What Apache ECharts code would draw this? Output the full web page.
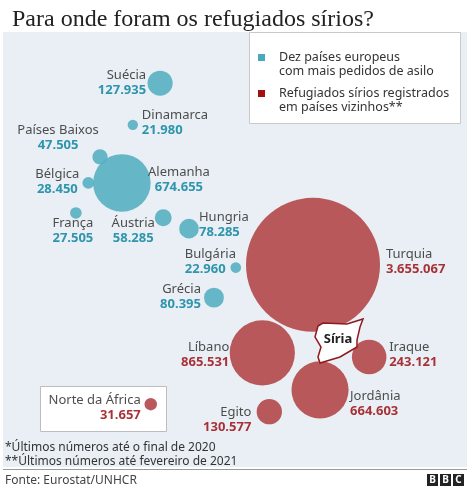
<!DOCTYPE html>
<html>
<head>
<meta charset="utf-8">
<script src="https://cdn.jsdelivr.net/npm/echarts@6/dist/echarts.min.js"></script>
<style>
html, body { margin: 0; padding: 0; background: #fff; }
#chart { width: 472px; height: 490px; }
</style>
</head>
<body>
<div id="chart"></div>
<script>
// dez países europeus com mais pedidos de asilo
var euNames = ['Suécia', 'Dinamarca', 'Países Baixos', 'Bélgica', 'Alemanha', 'França', 'Áustria', 'Hungria', 'Bulgária', 'Grécia'];
var euValues = [127935, 21980, 47505, 28450, 674655, 27505, 58285, 78285, 22960, 80395];
var euLon = [15.4, 11.9, 7.7, 6.2, 10.5, 4.6, 15.8, 19.1, 25.1, 22.3];
var euLat = [65.6, 59.5, 54.8, 51.0, 51.0, 46.6, 45.9, 44.3, 38.6, 34.2];

// refugiados registrados em países vizinhos
var nbNames = ['Turquia', 'Líbano', 'Iraque', 'Jordânia', 'Egito', 'Norte da África'];
var nbValues = [3655067, 865531, 243121, 664603, 130577, 31657];
var nbLon = [35.0, 28.5, 42.2, 35.9, 29.4, 14.2];
var nbLat = [39.0, 26.1, 25.5, 20.7, 17.5, 18.6];

// posição dos rótulos: [alinhamento, dx, dy]
var euPlace = [['right', -14, 0], ['left', 9, -2], ['center', -42, -19], ['center', -31, -1], ['center', 57, -3],
    ['center', -3, 18], ['center', -30, 13], ['left', 10, -4], ['left', -51, -6], ['right', -13, -1]];
var nbPlace = [['left', 73, -3], ['right', -33, 2], ['left', 20, -2], ['left', 30, 14], ['right', -18, 8], ['right', -10, 4]];

var maxValue = Math.max.apply(null, nbValues);
var maxRadius = 67;
var font = '"Noto Sans", sans-serif';

function fmt(v) {
    return String(v).replace(/\B(?=(\d{3})+(?!\d))/g, '.');
}

function buildData(names, values, lon, lat, place) {
    return names.map(function (n, i) {
        return {
            name: n,
            value: [lon[i], lat[i], values[i]],
            label: { align: place[i][0], offset: [place[i][1], place[i][2]] }
        };
    });
}

function bubbleSeries(name, data, color, valueColor) {
    return {
        name: name,
        type: 'scatter',
        data: data,
        symbolSize: function (val) {
            return 2 * maxRadius * Math.sqrt(val[2] / maxValue);
        },
        itemStyle: { color: color, opacity: 0.9 },
        emphasis: { disabled: true },
        label: {
            show: true,
            position: 'inside',
            verticalAlign: 'middle',
            formatter: function (p) {
                return '{n|' + p.name + '}\n{v|' + fmt(p.value[2]) + '}';
            },
            rich: {
                n: { fontFamily: font, fontSize: 13, color: '#3a3a3a', lineHeight: 15 },
                v: { fontFamily: font, fontSize: 13, fontWeight: 'bold', color: valueColor, lineHeight: 15 }
            }
        }
    };
}

var chart = echarts.init(document.getElementById('chart'));

var option = {
    animation: false,
    title: {
        text: 'Para onde foram os refugiados sírios?',
        left: 7,
        top: 3,
        textStyle: { fontFamily: '"Liberation Serif", serif', fontSize: 24, fontWeight: 'normal', color: '#222' }
    },
    grid: {
        left: 3, top: 32, width: 464, height: 435,
        show: true, backgroundColor: '#e9eff4', borderWidth: 0
    },
    xAxis: { type: 'value', min: -4.74, max: 54.74, show: false },
    yAxis: { type: 'value', min: 9.4, max: 73.1, show: false },
    series: [
        bubbleSeries('Dez países europeus', buildData(euNames, euValues, euLon, euLat, euPlace), '#56afc2', '#1a8ba5'),
        bubbleSeries('Refugiados sírios', buildData(nbNames, nbValues, nbLon, nbLat, nbPlace), '#b3474a', '#9e1b1f')
    ],
    graphic: [
        // legenda
        { type: 'rect', z: 10, shape: { x: 249.5, y: 32.5, width: 211, height: 91 },
          style: { fill: '#fff', stroke: '#c9c9c9', lineWidth: 1 } },
        { type: 'rect', z: 11, shape: { x: 258, y: 54, width: 7, height: 7 }, style: { fill: '#4aa8bd' } },
        { type: 'rect', z: 11, shape: { x: 258, y: 90, width: 7, height: 7 }, style: { fill: '#a00f12' } },
        { type: 'text', z: 11, x: 279, y: 64,
          style: { text: 'Dez países europeus\ncom mais pedidos de asilo', fill: '#333', font: '12.5px "Noto Sans"', lineHeight: 14, verticalAlign: 'middle' } },
        { type: 'text', z: 11, x: 279, y: 100,
          style: { text: 'Refugiados sírios registrados\nem países vizinhos**', fill: '#333', font: '12.5px "Noto Sans"', lineHeight: 14, verticalAlign: 'middle' } },
        // caixa Norte da África
        { type: 'rect', z: 1, shape: { x: 40.5, y: 386.5, width: 126, height: 45 },
          style: { fill: '#fff', stroke: '#bdbdbd', lineWidth: 1 } },
        // Síria
        { type: 'polygon', z: 5,
          shape: { points: [[318, 326], [323, 323], [347, 324], [363, 319], [360, 327], [357, 340], [357, 347], [340, 357], [320, 363], [318, 357], [321, 347], [315, 337]] },
          style: { fill: '#fff', stroke: '#8e1a1c', lineWidth: 1.5 } },
        { type: 'text', z: 6, x: 338, y: 339,
          style: { text: 'Síria', fill: '#222', font: 'bold 13px "Noto Sans"', align: 'center', verticalAlign: 'middle' } },
        // notas e fonte
        { type: 'text', z: 10, x: 5, y: 448,
          style: { text: '*Últimos números até o final de 2020', fill: '#333', font: '12px "Noto Sans"', verticalAlign: 'middle' } },
        { type: 'text', z: 10, x: 5, y: 462,
          style: { text: '**Últimos números até fevereiro de 2021', fill: '#333', font: '12px "Noto Sans"', verticalAlign: 'middle' } },
        { type: 'line', z: 10, shape: { x1: 3, y1: 469.5, x2: 467, y2: 469.5 }, style: { stroke: '#9a9a9a', lineWidth: 1 } },
        { type: 'text', z: 10, x: 5, y: 481,
          style: { text: 'Fonte: Eurostat/UNHCR', fill: '#444', font: '12px "Noto Sans"', verticalAlign: 'middle' } },
        // logo BBC
        { type: 'rect', z: 10, shape: { x: 427, y: 474, width: 11, height: 12 }, style: { fill: '#222' } },
        { type: 'rect', z: 10, shape: { x: 440, y: 474, width: 11, height: 12 }, style: { fill: '#222' } },
        { type: 'rect', z: 10, shape: { x: 453, y: 474, width: 11, height: 12 }, style: { fill: '#222' } },
        { type: 'text', z: 11, x: 432.5, y: 480.5, style: { text: 'B', fill: '#fff', font: 'bold 10px "Noto Sans"', align: 'center', verticalAlign: 'middle' } },
        { type: 'text', z: 11, x: 445.5, y: 480.5, style: { text: 'B', fill: '#fff', font: 'bold 10px "Noto Sans"', align: 'center', verticalAlign: 'middle' } },
        { type: 'text', z: 11, x: 458.5, y: 480.5, style: { text: 'C', fill: '#fff', font: 'bold 10px "Noto Sans"', align: 'center', verticalAlign: 'middle' } }
    ]
};

chart.setOption(option);
</script>
</body>
</html>
